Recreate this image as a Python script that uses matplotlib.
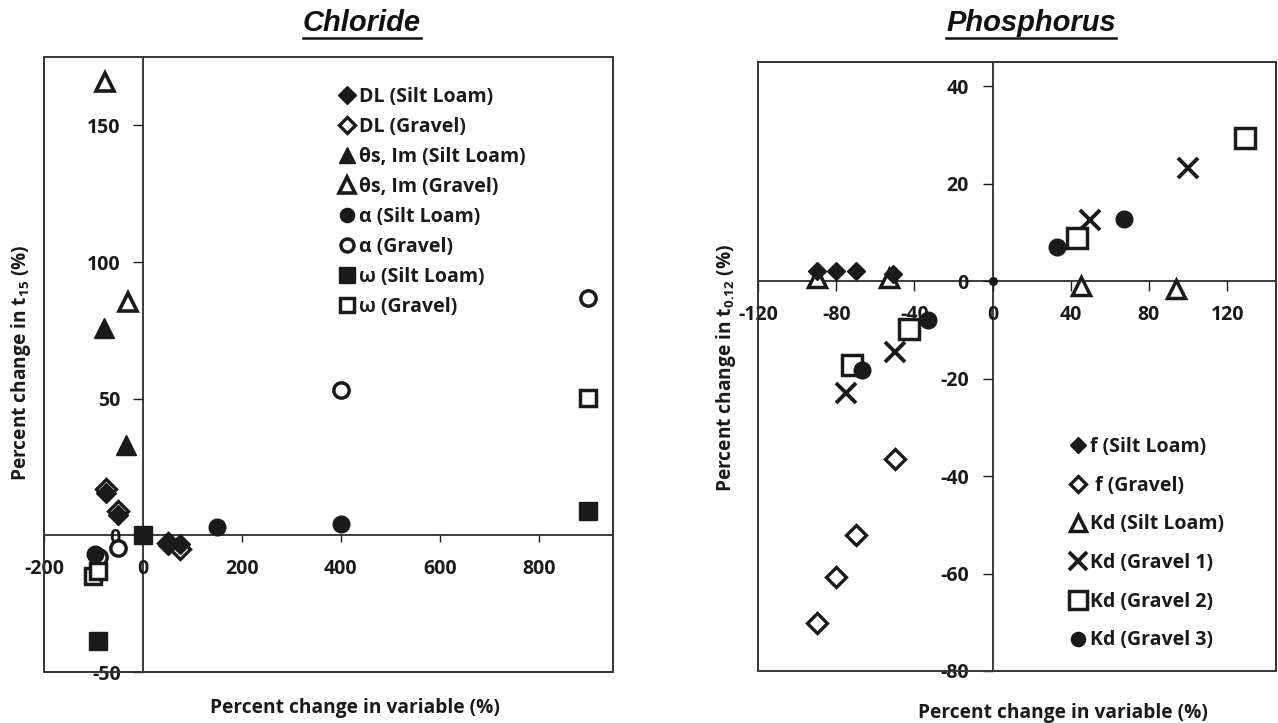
import matplotlib
matplotlib.use('Agg')
import matplotlib.pyplot as plt
from matplotlib.lines import Line2D
from matplotlib.patches import Rectangle

plt.rcParams['font.family'] = ['Open Sans', 'DejaVu Sans']
plt.rcParams['font.weight'] = 'bold'
plt.rcParams['axes.unicode_minus'] = False
plt.rcParams['mathtext.fontset'] = 'custom'
plt.rcParams['mathtext.rm'] = 'Open Sans:bold'
plt.rcParams['mathtext.it'] = 'Open Sans:bold'
plt.rcParams['mathtext.bf'] = 'Open Sans:bold'

# ---------------- Chloride data ----------------
dl_silt_x = [-75, -50, 50, 75]
dl_silt_y = [15.4, 7.3, -3.7, -3.2]
dl_grav_x = [-75, -50, 50, 75]
dl_grav_y = [17.0, 8.9, -2.8, -5.1]
th_silt_x = [-78, -34]
th_silt_y = [75.9, 32.9]
th_grav_x = [-77, -30]
th_grav_y = [165.9, 85.4]
al_silt_x = [-96, 150, 400]
al_silt_y = [-7.0, 2.9, 4.0]
al_grav_x = [-88, -50, 400, 900]
al_grav_y = [-8.0, -4.5, 53.0, 86.7]
om_silt_x = [-90, 0, 900]
om_silt_y = [-38.6, 0.0, 8.8]
om_grav_x = [-100, -90, 900]
om_grav_y = [-15.0, -13.0, 50.3]
cl_labels = ['DL (Silt Loam)', 'DL (Gravel)', 'θs, Im (Silt Loam)', 'θs, Im (Gravel)',
             'α (Silt Loam)', 'α (Gravel)', 'ω (Silt Loam)', 'ω (Gravel)']
cl_xticks = [-200, 0, 200, 400, 600, 800]
cl_yticks = [-50, 0, 50, 100, 150]

# ---------------- Phosphorus data ----------------
f_silt_x = [-90, -80, -70, -51]
f_silt_y = [2.2, 2.2, 2.2, 1.5]
f_grav_x = [-90, -80, -70, -50]
f_grav_y = [-70.2, -60.7, -52.0, -36.5]
kd_silt_x = [-90, -53, 45, 94]
kd_silt_y = [0.6, 0.6, -1.0, -1.5]
kd_g1_x = [-75, -50, 50, 100]
kd_g1_y = [-23.0, -14.6, 12.6, 23.3]
kd_g2_x = [-72, -43, 43, 129]
kd_g2_y = [-17.2, -9.9, 8.8, 29.4]
kd_g3_x = [-67, -33, 33, 67]
kd_g3_y = [-18.2, -8.0, 7.1, 12.8]
p_origin_x = [0]
p_origin_y = [0]
p_labels = ['f (Silt Loam)', ' f (Gravel)', 'Kd (Silt Loam)', 'Kd (Gravel 1)',
            'Kd (Gravel 2)', 'Kd (Gravel 3)']
p_xticks = [-120, -80, -40, 0, 40, 80, 120]
p_yticks = [-80, -60, -40, -20, 0, 20, 40]

W, H = 1278, 723
K = '#1a1a1a'
TS = 14      # tick label size
LS = 14      # legend size
fig = plt.figure(figsize=(W / 100, H / 100), dpi=100)
axL = fig.add_axes([44 / W, 1 - 672 / H, 569 / W, 615 / H])
axR = fig.add_axes([758 / W, 1 - 671 / H, 518 / W, 609 / H])


def mk(ax, x, y, marker, filled, ms, z, mew=2.0, label=None):
    if marker == 'x':
        ln, = ax.plot(x, y, linestyle='none', marker='x', ms=ms, mew=mew,
                      color=K, zorder=z, label=label)
    elif filled:
        ln, = ax.plot(x, y, linestyle='none', marker=marker, ms=ms, mew=1.0,
                      mfc=K, mec=K, zorder=z, label=label)
    else:
        ln, = ax.plot(x, y, linestyle='none', marker=marker, ms=ms, mew=mew,
                      mfc='white', mec=K, zorder=z, label=label)
    return ln


def style_axes(ax, xlim, ylim, xt, yt, xlen, ylen, xpad, ypad):
    ax.set_xlim(*xlim)
    ax.set_ylim(*ylim)
    ax.set_xticks(xt)
    ax.set_yticks(yt)
    for s in ['top', 'right']:
        ax.spines[s].set_visible(False)
    ax.spines['left'].set_position(('data', 0))
    ax.spines['bottom'].set_position(('data', 0))
    for s in ['left', 'bottom']:
        ax.spines[s].set_linewidth(1.2)
        ax.spines[s].set_color(K)
    ax.tick_params(axis='x', direction='out', length=xlen, width=1.0, pad=xpad,
                   labelsize=TS, colors=K)
    ax.tick_params(axis='y', direction='out', length=ylen, width=1.0, pad=ypad,
                   labelsize=TS, colors=K)
    ax.add_patch(Rectangle((0, 0), 1, 1, transform=ax.transAxes, fill=False,
                           lw=1.4, ec='#333333', clip_on=False, zorder=6))
    ax.patch.set_visible(False)


# ---------------- Chloride ----------------
hL = []
hL.append(mk(axL, dl_silt_x, dl_silt_y, 'D', True, 10.5, 6, label=cl_labels[0]))
hL.append(mk(axL, dl_grav_x, dl_grav_y, 'D', False, 10.0, 5, mew=2.4, label=cl_labels[1]))
hL.append(mk(axL, th_silt_x, th_silt_y, '^', True, 14, 6, label=cl_labels[2]))
hL.append(mk(axL, th_grav_x, th_grav_y, '^', False, 13, 5, mew=2.6, label=cl_labels[3]))
hL.append(mk(axL, al_silt_x, al_silt_y, 'o', True, 12, 6, label=cl_labels[4]))
hL.append(mk(axL, al_grav_x, al_grav_y, 'o', False, 11, 5, mew=2.5, label=cl_labels[5]))
hL.append(mk(axL, om_silt_x, om_silt_y, 's', True, 13, 6, label=cl_labels[6]))
hL.append(mk(axL, om_grav_x, om_grav_y, 's', False, 12, 5, mew=2.5, label=cl_labels[7]))
style_axes(axL, (-200, 950), (-50, 175), cl_xticks, cl_yticks, 5, 7, 12, 9)
axL.legend(handles=hL, loc='upper left', bbox_to_anchor=(0.520, 0.952),
           frameon=False, borderpad=0, borderaxespad=0, handlelength=0.7,
           handletextpad=0.28, labelspacing=0.52, markerscale=0.85,
           prop={'size': LS, 'weight': 'bold'}, labelcolor=K)

# ---------------- Phosphorus ----------------
hR = []
hR.append(mk(axR, f_silt_x, f_silt_y, 'D', True, 9.5, 6, label=p_labels[0]))
hR.append(mk(axR, f_grav_x, f_grav_y, 'D', False, 10.0, 5, mew=2.4, label=p_labels[1]))
hR.append(mk(axR, kd_silt_x, kd_silt_y, '^', False, 13, 4, mew=2.5, label=p_labels[2]))
hR.append(mk(axR, kd_g1_x, kd_g1_y, 'x', False, 14.5, 5, mew=2.8, label=p_labels[3]))
hR.append(mk(axR, kd_g2_x, kd_g2_y, 's', False, 14.5, 5, mew=2.5, label=p_labels[4]))
hR.append(mk(axR, kd_g3_x, kd_g3_y, 'o', True, 12, 6, label=p_labels[5]))
mk(axR, p_origin_x, p_origin_y, 'o', True, 5.5, 7)
style_axes(axR, (-120, 145), (-80, 45), p_xticks, p_yticks, 7, 7, 10, 10)
axR.legend(handles=hR, loc='upper left', bbox_to_anchor=(0.605, 0.384),
           frameon=False, borderpad=0, borderaxespad=0, handlelength=0.7,
           handletextpad=0.28, labelspacing=0.96, markerscale=0.85,
           prop={'size': LS, 'weight': 'bold'}, labelcolor=K)

# ---------------- Titles & labels ----------------
titles = []
for txt, cx in [('Chloride', 362), ('Phosphorus', 1031)]:
    t = fig.text(cx / W, 1 - 23 / H, txt, ha='center', va='center', fontsize=21,
                 fontstyle='italic', fontweight='bold', family='Liberation Sans',
                 color='#111111')
    titles.append(t)

XL = 13.8
fig.text(355 / W, 1 - 708 / H, 'Percent change in variable (%)', ha='center',
         va='center', fontsize=XL, color=K)
fig.text(1063 / W, 1 - 713 / H, 'Percent change in variable (%)', ha='center',
         va='center', fontsize=XL, color=K)
fig.text(21 / W, 1 - 363 / H, 'Percent change in t$_{15}$ (%)', ha='center',
         va='center', rotation=90, fontsize=XL, color=K)
fig.text(726 / W, 1 - 368 / H, 'Percent change in t$_{0.12}$ (%)', ha='center',
         va='center', rotation=90, fontsize=XL, color=K)

fig.canvas.draw()
r = fig.canvas.get_renderer()
for t in titles:
    bb = t.get_window_extent(r)
    yy = (bb.y0 - 1) / H
    fig.add_artist(Line2D([bb.x0 / W, bb.x1 / W], [yy, yy], color='#111111', lw=1.8))

fig.savefig('out.png', dpi=100)
